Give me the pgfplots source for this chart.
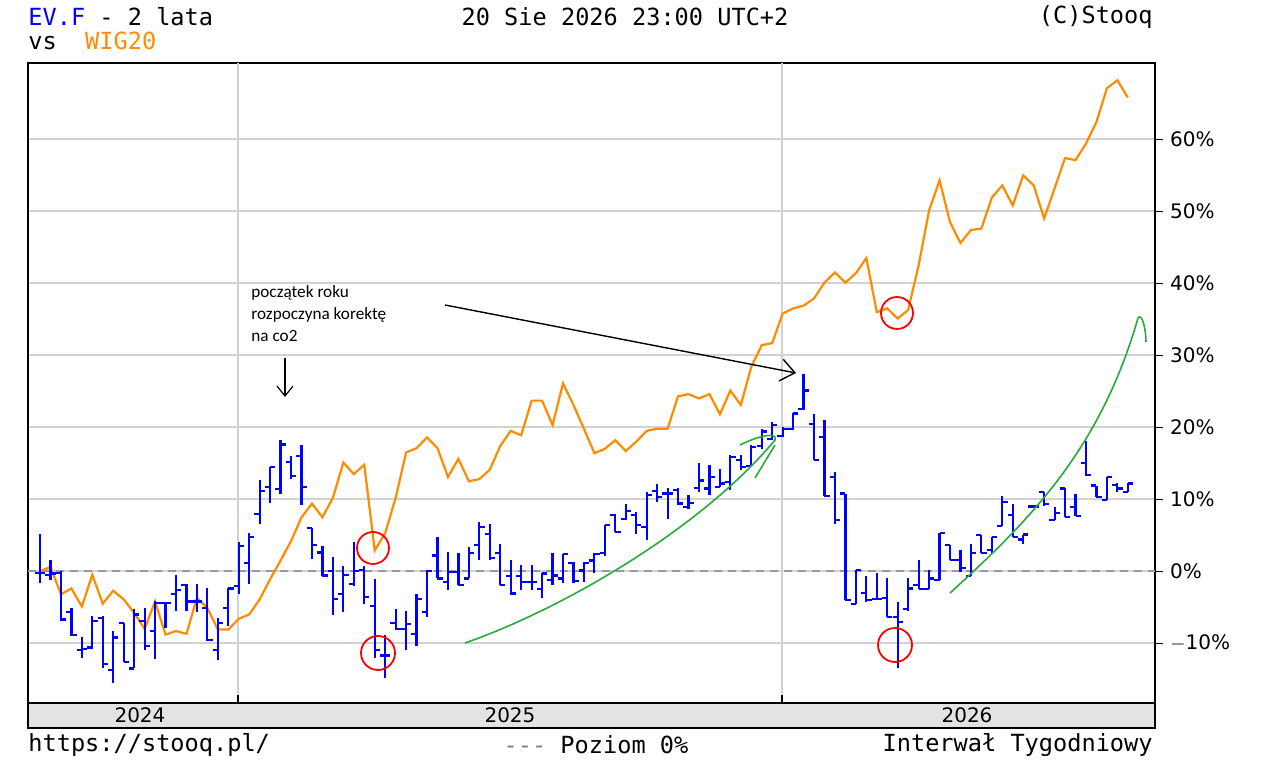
\documentclass[border=0pt]{standalone}
\usepackage{pgfplots}
\pgfplotsset{compat=1.18}
\usepackage{pgfplotstable}
\usepackage{fontspec}
\setmainfont{DejaVu Sans}
\setmonofont{DejaVu Sans Mono}
\newfontfamily\annfont{Carlito}
\usetikzlibrary{arrows.meta}
\definecolor{stblue}{RGB}{0,0,255}
\definecolor{storange}{RGB}{255,140,0}
\definecolor{stgreen}{RGB}{40,170,60}
\pgfdeclareplotmark{otick}{\pgfpathmoveto{\pgfpoint{-2.6pt}{0pt}}\pgfpathlineto{\pgfpoint{0pt}{0pt}}\pgfusepathqstroke}
\pgfdeclareplotmark{ctick}{\pgfpathmoveto{\pgfpoint{0pt}{0pt}}\pgfpathlineto{\pgfpoint{2.6pt}{0pt}}\pgfusepathqstroke}
\pgfplotstableread{
i h l o c
0 5.2 -1.6 -0.2 -0.2
1 1.5 -1.2 -0.5 -0.3
2 0 -6.9 -0.2 -6.7
3 -5.1 -9 -5.7 -8.8
4 -9.2 -12.1 -10.9 -10.8
5 -6.2 -10.8 -10.6 -6.9
6 -6.2 -13.5 -6.5 -12.9
7 -8.3 -15.5 -13.7 -9.2
8 -7.2 -12.6 -7.2 -12.6
9 -5.3 -13.5 -13.5 -6
10 -5.1 -10.9 -6.9 -10.4
11 -4.2 -12.2 -8.3 -4.4
12 -4.4 -7.9 -4.4 -4.4
13 -0.5 -5.5 -3.2 -2.6
14 -1.8 -5.5 -1.9 -4.2
15 -1.8 -5.7 -4.2 -4.2
16 -2.3 -9.7 -5.1 -9.6
17 -6.5 -12.3 -10.9 -7.2
18 -2.3 -7.6 -5.1 -2.4
19 4 -3.1 -2.1 3.5
20 5.3 -1.8 1.2 4.8
21 12.7 6.5 7.9 11.1
22 14.5 9.5 11.7 14.5
23 18.2 10.8 11.4 17.6
24 16 12.8 15.2 13.2
25 17.6 9.2 16 11.7
26 6 1.7 6 3.6
27 3.5 -0.7 2.6 -0.6
28 2 -6.1 0 -3.9
29 0.7 -5.7 -3.2 -0.5
30 4 -2 -1.8 0
31 0.7 -4.6 0.2 -3.6
32 -1.1 -12.1 -4.8 -10.9
33 -8.8 -14.8 -11.7 -11.7
34 -5.3 -8.1 -7.2 -8
35 -5.5 -10.9 -8 -7.3
36 -3.1 -10.4 -8.7 -3.8
37 0.2 -6.3 -5.7 0
38 4.8 -1 2.2 -1
39 2.7 -2.6 -1.5 -0.1
40 2.5 -1.9 -0.1 -1.9
41 3.3 -1 -1 2.5
42 6.9 1.6 3.6 6.2
43 6.6 1.5 5.2 1.8
44 3.8 -1.9 2.5 -1.9
45 1.5 -3.3 -0.7 -3.1
46 0.8 -2.6 -0.7 -1.5
47 0.8 -2.6 -1.5 -1.5
48 -0.3 -3.7 -2.5 -0.3
49 2.5 -1.9 -1.2 -0.6
50 2.4 -1.6 -1 2.4
51 1.3 -1.6 1.2 -1.3
52 1.3 -1.5 0.1 1.2
53 2.5 -0.3 1.5 2.4
54 6.4 2.1 2.5 6.4
55 7.9 5.5 7.8 5.5
56 9.3 7.1 7.3 8.4
57 8.2 5.2 7.8 6.4
58 11 4.3 6.2 10.6
59 12.1 9.6 11.2 10.3
60 11.5 7.3 10.8 10.8
61 11.5 9.2 11.3 9.4
62 10.6 8.7 8.9 9.5
63 15 11 11.6 12.6
64 14.7 10.6 11.5 13.1
65 14.2 11.7 11.7 12.2
66 16.1 11.3 12.4 15.9
67 16.1 14 15.5 14.5
68 17.6 14.6 14.6 17.3
69 19.8 17 17.4 19.4
70 20.7 18.2 18.4 20.3
71 20 18.6 18.8 19.8
72 22 19.6 19.8 21.9
73 27.4 22.4 22.5 25.1
74 21.9 15.5 20.5 15.5
75 21 10.4 18.7 10.4
76 13.8 6.6 13.1 7.1
77 10.8 -4 10.8 -4
78 0.2 -4.6 -4.6 0.2
79 -0.6 -4.3 -3 -4
80 -0.3 -3.9 -3.9 -3.9
81 -0.9 -6.3 -3.7 -6.3
82 -4.3 -13.4 -6.3 -7
83 -0.9 -5.5 -5.2 -2.4
84 1.5 -2.5 -1.9 -2.5
85 0.2 -2.5 -2.5 -1
86 5.3 -1.2 -1.2 5.3
87 3.6 1.6 3.6 1.6
88 2.9 -0.1 1.6 0.4
89 3.8 -0.7 -0.7 2.5
90 5 2.5 5 2.5
91 4.8 2.5 3 4.8
92 10.4 6.3 6.3 9.6
93 9.3 4.8 7.8 4.8
94 5.1 3.8 4.4 5.1
95 9.2 8.8 9 9
96 11 9 11 9.3
97 8.9 7.1 7.1 8.1
98 11.5 7.5 11.5 7.5
99 10.8 7.7 8.9 7.7
100 18.1 13.2 15 13.4
101 11.9 10.3 11.9 10.3
102 13.1 9.9 9.9 13.1
103 12.3 11 12 11.5
104 12.3 11 11 12.2
}\evf
\pgfplotstableread{
i w
0 0
1 0.6
2 -3.2
3 -2.4
4 -4.9
5 -0.5
6 -4.5
7 -2.7
8 -3.9
9 -5.8
10 -8
11 -4.2
12 -8.8
13 -8.3
14 -8.7
15 -3.7
16 -5.1
17 -8.1
18 -8.1
19 -6.6
20 -6
21 -3.9
22 -1.1
23 1.5
24 4.2
25 7.5
26 9.4
27 7.5
28 10.2
29 15.1
30 13.5
31 14.8
32 2.9
33 5.3
34 10.2
35 16.5
36 17.1
37 18.6
38 17.1
39 13.1
40 15.6
41 12.5
42 12.8
43 14.1
44 17.4
45 19.5
46 18.9
47 23.7
48 23.7
49 20.3
50 26.1
51 23.1
52 19.8
53 16.4
54 17.0
55 18.2
56 16.7
57 18.0
58 19.5
59 19.8
60 19.8
61 24.3
62 24.6
63 24.0
64 24.6
65 21.8
66 25.1
67 23.1
68 28.4
69 31.4
70 31.7
71 35.8
72 36.5
73 36.9
74 37.9
75 40.1
76 41.5
77 40.1
78 41.4
79 43.5
80 36.0
81 36.5
82 35.1
83 36.3
84 42.5
85 50.1
86 54.3
87 48.5
88 45.6
89 47.4
90 47.6
91 51.9
92 53.6
93 50.8
94 55.0
95 53.6
96 49.0
97 53.2
98 57.4
99 57.1
100 59.4
101 62.4
102 67.1
103 68.2
104 65.8
}\wig
\begin{document}
\begin{tikzpicture}
\useasboundingbox (0,0) rectangle (640pt,380pt);
\fill[white] (0,0) rectangle (640pt,380pt);
\begin{axis}[
  at={(14pt,28.5pt)}, anchor=south west,
  scale only axis, width=563.5pt, height=320pt,
  xmin=-1.15, xmax=106.6, ymin=-18.3, ymax=70.6,
  xtick=\empty,
  extra x ticks={18.93,70.9}, extra x tick labels={},
  extra x tick style={grid=major, major tick length=0pt},
  ytick={-10,0,10,20,30,40,50,60},
  yticklabels={$-$10\%,0\%,10\%,20\%,30\%,40\%,50\%,60\%},
  ytick pos=right, yticklabel pos=right, tick align=outside,
  major tick length=4pt,
  ymajorgrids,
  grid style={gray!35, line width=0.9pt},
  tick label style={font=\fontsize{10}{12}\selectfont},
  /pgf/number format/assume math mode=true,
  axis line style={black, line width=0.6pt},
  tick style={black, line width=0.6pt},
  clip=true,
]
\addplot[gray!80, line width=0.9pt, dash pattern=on 4pt off 3pt] coordinates {(-1.15,0) (106.6,0)};
\addplot[storange, line width=1.1pt] table[x=i, y=w] {\wig};
\addplot[draw=none, no markers, forget plot, error bars/.cd, y dir=both, y explicit,
  error bar style={stblue, line width=1.1pt, solid}, error mark=none]
  table[x=i, y expr=(\thisrow{h}+\thisrow{l})/2, y error expr=(\thisrow{h}-\thisrow{l})/2] {\evf};
\addplot[only marks, mark=otick, mark options={stblue, line width=1.1pt}] table[x=i, y=o] {\evf};
\addplot[only marks, mark=ctick, mark options={stblue, line width=1.1pt}] table[x=i, y=c] {\evf};
\end{axis}
\begin{scope}[x=0.5pt, y=-0.5pt, shift={(0,380pt)}]
  % year band
  \fill[gray!22] (28,703) rectangle (1155,728);
  \draw[black, line width=0.6pt] (28,703) rectangle (1155,728);
  \draw[black, line width=0.8pt] (238,703) -- (238,695) (782,703) -- (782,695);
  \node[font=\fontsize{10}{12}\selectfont] at (140,715) {2024};
  \node[font=\fontsize{10}{12}\selectfont] at (510,715) {2025};
  \node[font=\fontsize{10}{12}\selectfont] at (967,715) {2026};
  % header / footer
  \node[anchor=west, font=\ttfamily\fontsize{11.8}{14}\selectfont, inner sep=0] at (28,17) {\textcolor{stblue}{EV.F} - 2 lata};
  \node[anchor=west, font=\ttfamily\fontsize{11.8}{14}\selectfont, inner sep=0] at (28,41) {vs\ \ \textcolor{storange}{WIG20}};
  \node[font=\ttfamily\fontsize{11.8}{14}\selectfont, inner sep=0] at (625,17) {20 Sie 2026 23:00 UTC+2};
  \node[anchor=east, font=\ttfamily\fontsize{11.8}{14}\selectfont, inner sep=0] at (1153,17) {(C)Stooq};
  \node[anchor=west, font=\ttfamily\fontsize{11.8}{14}\selectfont, inner sep=0] at (28,745) {https://stooq.pl/};
  \node[font=\ttfamily\fontsize{11.8}{14}\selectfont, inner sep=0] at (596,745) {\textcolor{gray}{---} Poziom 0\%};
  \node[anchor=east, font=\ttfamily\fontsize{11.8}{14}\selectfont, inner sep=0] at (1153,745) {Interwał Tygodniowy};
  % annotations
  \node[anchor=north west, align=left, font=\annfont\fontsize{8.6}{11}\selectfont, inner sep=0] at (251,285) {początek roku\\rozpoczyna korektę\\na co2};
  \draw[black, line width=0.6pt, -{Straight Barb[length=5pt,width=8pt]}] (285,358) -- (285,397);
  \draw[black, line width=0.7pt, -{Straight Barb[length=7pt,width=11pt]}] (445,305) -- (796,373);
  \draw[red, line width=0.9pt] (373,548) circle (16);
  \draw[red, line width=0.9pt] (378,653) circle (17);
  \draw[red, line width=0.9pt] (897,313) circle (16);
  \draw[red, line width=0.9pt] (895,645) circle (17);
  \draw[stgreen, line width=0.8pt] (465,643) .. controls (560,610) and (700,530) .. (775,440) .. controls (778,432) and (760,435) .. (740,445);
  \draw[stgreen, line width=0.8pt] (775,445) -- (755,478);
  \draw[stgreen, line width=0.8pt] (950,593) .. controls (1030,520) and (1100,450) .. (1138,318) .. controls (1142,312) and (1146,330) .. (1146,342);
\end{scope}
\end{tikzpicture}
\end{document}
